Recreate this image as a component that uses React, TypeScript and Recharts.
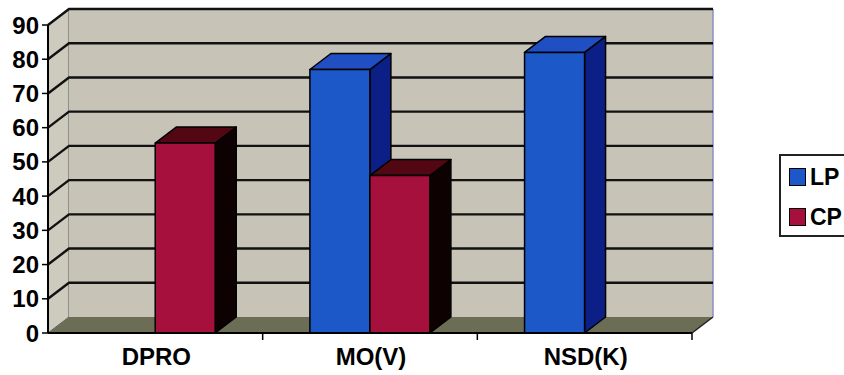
import React from "react";
import {
  Bar,
  BarChart,
  CartesianGrid,
  ReferenceArea,
  XAxis,
  YAxis,
} from "recharts";

const CATEGORIES = ["DPRO", "MO(V)", "NSD(K)"];
const LP = [0, 77, 82];
const CP = [55.5, 46, 0];
const Y_TICKS = [0, 10, 20, 30, 40, 50, 60, 70, 80, 90];

const data = CATEGORIES.map((name, i) => ({ name, LP: LP[i], CP: CP[i] }));

// depth offset of the fake 3D box
const DX = 21;
const DY = -16;

const FONT = "'Liberation Sans', Arial, sans-serif";

const BLUE = { face: "#1d58c9", top: "#1f4fc2", side: "#0c1f86" };
const RED = { face: "#a5103d", top: "#520712", side: "#0d0102" };

function Box3D(props: any) {
  const { x, y, width: w, height: h, colors } = props;
  if (!h || h <= 0) return <g />;
  const top = `${x},${y} ${x + DX},${y + DY} ${x + w + DX},${y + DY} ${x + w},${y}`;
  const side = `${x + w},${y} ${x + w + DX},${y + DY} ${x + w + DX},${y + h + DY} ${x + w},${y + h}`;
  return (
    <g stroke="#000" strokeWidth={1.5} strokeLinejoin="round">
      <polygon points={side} fill={colors.side} />
      <polygon points={top} fill={colors.top} />
      <rect x={x} y={y} width={w} height={h} fill={colors.face} />
    </g>
  );
}

function Walls(props: any) {
  const { x, y, width: w, height: h } = props;
  const b = y + h;
  return (
    <g>
      <polygon
        points={`${x},${y} ${x + DX},${y + DY} ${x + DX},${b + DY} ${x},${b}`}
        fill="#cdcabe"
        stroke="#555"
        strokeWidth={1}
      />
      <rect x={x + DX} y={y + DY} width={w} height={h} fill="#c7c4b7" />
      <line x1={x + DX} y1={y + DY} x2={x + DX + w} y2={y + DY} stroke="#b9b25a" strokeWidth={1.5} />
      <line x1={x + DX + w} y1={y + DY} x2={x + DX + w} y2={b + DY} stroke="#8d8fc4" strokeWidth={1.5} />
      <polygon
        points={`${x},${b} ${x + DX},${b + DY} ${x + w + DX},${b + DY} ${x + w},${b}`}
        fill="#6c6d55"
      />
      <line x1={x + w} y1={b} x2={x + w + DX} y2={b + DY} stroke="#222" strokeWidth={1.5} />
    </g>
  );
}

function GridLine(props: any) {
  const { x1, x2, y1, index } = props;
  if (index === 0 || y1 > 330) return <g key={props.key} />;
  return (
    <path
      key={props.key}
      d={`M${x1},${y1} L${x1 + DX},${y1 + DY} L${x2 + DX},${y1 + DY}`}
      fill="none"
      stroke="#111"
      strokeWidth={2.4}
    />
  );
}

function CatTick(props: any) {
  const { x, y, payload } = props;
  const half = payload?.offset ?? 107;
  return (
    <g>
      <line x1={x + half} y1={y} x2={x + half} y2={y + 7} stroke="#000" strokeWidth={1.5} />
      <text
        x={x + 1}
        y={y + 32}
        textAnchor="middle"
        fontFamily={FONT}
        fontWeight="bold"
        fontSize={24}
        fill="#000"
      >
        {payload.value}
      </text>
    </g>
  );
}

function LegendBox() {
  const item = (label: string, color: string) => (
    <div style={{ display: "flex", alignItems: "center", height: 40 }}>
      <div
        style={{
          width: 15,
          height: 16,
          background: color,
          border: "1px solid #000",
          marginRight: 4,
        }}
      />
      <span style={{ fontFamily: FONT, fontWeight: "bold", fontSize: 23, color: "#000" }}>
        {label}
      </span>
    </div>
  );
  return (
    <div
      style={{
        position: "absolute",
        left: 779,
        top: 154,
        width: 80,
        height: 83,
        border: "2px solid #222",
        background: "#fff",
        boxSizing: "border-box",
        paddingLeft: 8,
        paddingTop: 1,
      }}
    >
      {item("LP", BLUE.face)}
      {item("CP", RED.face)}
    </div>
  );
}

export default function App() {
  return (
    <div
      style={{
        position: "absolute",
        left: 0,
        top: 0,
        width: 844,
        height: 375,
        overflow: "hidden",
        background: "#fff",
      }}
    >
      <BarChart
        width={844}
        height={375}
        data={data}
        margin={{ top: 25, right: 152, left: 0, bottom: 0 }}
        barCategoryGap="22%"
        barGap={0}
      >
        <ReferenceArea
          y1={0}
          y2={90}
          ifOverflow="visible"
          shape={<Walls />}
          zIndex={-200}
        />
        <CartesianGrid vertical={false} horizontal={(p: any) => <GridLine {...p} />} />
        <XAxis
          dataKey="name"
          height={42}
          tickLine={false}
          tickSize={0}
          tickMargin={0}
          axisLine={{ stroke: "#000", strokeWidth: 2 }}
          tick={<CatTick />}
          interval={0}
        />
        <YAxis
          width={48}
          domain={[0, 90]}
          ticks={Y_TICKS}
          interval={0}
          tickSize={6}
          tickMargin={3}
          axisLine={{ stroke: "#000", strokeWidth: 2 }}
          tickLine={{ stroke: "#000", strokeWidth: 1.5 }}
          tick={{ fontFamily: FONT, fontWeight: "bold", fontSize: 24, fill: "#000" }}
        />
        <Bar
          dataKey="LP"
          isAnimationActive={false}
          fill={BLUE.face}
          shape={(p: any) => <Box3D {...p} colors={BLUE} />}
        />
        <Bar
          dataKey="CP"
          isAnimationActive={false}
          fill={RED.face}
          shape={(p: any) => <Box3D {...p} colors={RED} />}
        />
      </BarChart>
      <LegendBox />
    </div>
  );
}
